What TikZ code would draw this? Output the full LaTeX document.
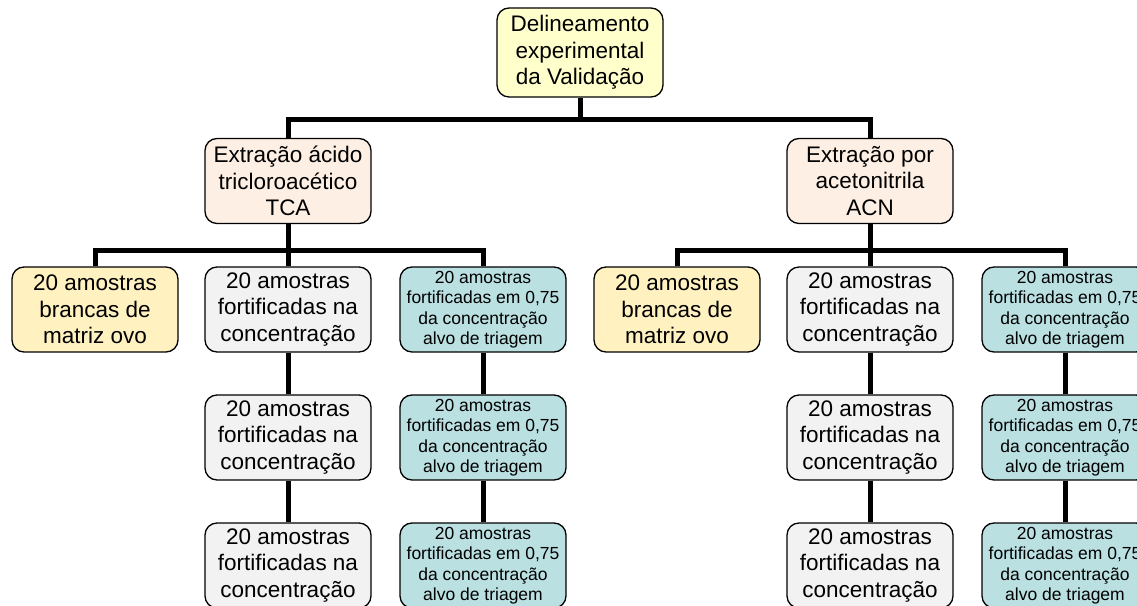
\documentclass[tikz,border=0pt]{standalone}
\usepackage{fontspec}
\setmainfont{Liberation Sans}
\definecolor{cRaiz}{HTML}{FFFFCC}
\definecolor{cMetodo}{HTML}{FDEFE4}
\definecolor{cBranca}{HTML}{FFF2C0}
\definecolor{cFort}{HTML}{F2F2F2}
\definecolor{cTriagem}{HTML}{BAE0E2}
\begin{document}
\begin{tikzpicture}[x=1pt,y=1pt,
	caixa/.style={draw,rounded corners=12pt,line width=1.3pt,minimum width=166pt,minimum height=85pt,align=center,inner sep=2pt,font=\fontsize{22.5}{26.5}\selectfont},
	pequena/.style={caixa,fill=cTriagem,font=\fontsize{17.5}{20.5}\selectfont},
	liga/.style={line width=5pt}]
		\useasboundingbox (0,0) rectangle (1137,605);
		\clip (0,0) rectangle (1137,605);
		% topo
		\node[caixa,fill=cRaiz,minimum height=89pt] (raiz) at (580,552.5) {Delineamento\\experimental\\da Validação};
		\node[caixa,fill=cMetodo] (tca) at (288,424) {Extração ácido\\tricloroacético\\TCA};
		\node[caixa,fill=cMetodo] (acn) at (870,424) {Extração por\\acetonitrila\\ACN};
		% TCA
		\node[caixa,fill=cBranca] (b1) at (95,295.5) {20 amostras\\brancas de\\matriz ovo};
		\node[caixa,fill=cFort] (f1) at (288,295.5) {20 amostras\\fortificadas na\\concentração};
		\node[caixa,fill=cFort] (f2) at (288,167.5) {20 amostras\\fortificadas na\\concentração};
		\node[caixa,fill=cFort] (f3) at (288,39.5) {20 amostras\\fortificadas na\\concentração};
		\node[pequena] (t1) at (483,295.5) {20 amostras\\fortificadas em 0,75\\da concentração\\alvo de triagem};
		\node[pequena] (t2) at (483,167.5) {20 amostras\\fortificadas em 0,75\\da concentração\\alvo de triagem};
		\node[pequena] (t3) at (483,39.5) {20 amostras\\fortificadas em 0,75\\da concentração\\alvo de triagem};
		% ACN
		\node[caixa,fill=cBranca] (b2) at (677,295.5) {20 amostras\\brancas de\\matriz ovo};
		\node[caixa,fill=cFort] (f4) at (870,295.5) {20 amostras\\fortificadas na\\concentração};
		\node[caixa,fill=cFort] (f5) at (870,167.5) {20 amostras\\fortificadas na\\concentração};
		\node[caixa,fill=cFort] (f6) at (870,39.5) {20 amostras\\fortificadas na\\concentração};
		\node[pequena] (t4) at (1065,295.5) {20 amostras\\fortificadas em 0,75\\da concentração\\alvo de triagem};
		\node[pequena] (t5) at (1065,167.5) {20 amostras\\fortificadas em 0,75\\da concentração\\alvo de triagem};
		\node[pequena] (t6) at (1065,39.5) {20 amostras\\fortificadas em 0,75\\da concentração\\alvo de triagem};
		% ligacoes
		\coordinate (j0) at (580,485);
		\coordinate (j1) at (288,354);
		\coordinate (j2) at (870,354);
		\draw[liga] (raiz) -- (j0) -| (tca);
		\draw[liga] (j0) -| (acn);
		\draw[liga] (tca) -- (f1);
		\draw[liga] (j1) -| (b1);
		\draw[liga] (j1) -| (t1);
		\draw[liga] (acn) -- (f4);
		\draw[liga] (j2) -| (b2);
		\draw[liga] (j2) -| (t4);
		\draw[liga] (f1) -- (f2);
		\draw[liga] (f2) -- (f3);
		\draw[liga] (t1) -- (t2);
		\draw[liga] (t2) -- (t3);
		\draw[liga] (f4) -- (f5);
		\draw[liga] (f5) -- (f6);
		\draw[liga] (t4) -- (t5);
		\draw[liga] (t5) -- (t6);
\end{tikzpicture}
\end{document}
